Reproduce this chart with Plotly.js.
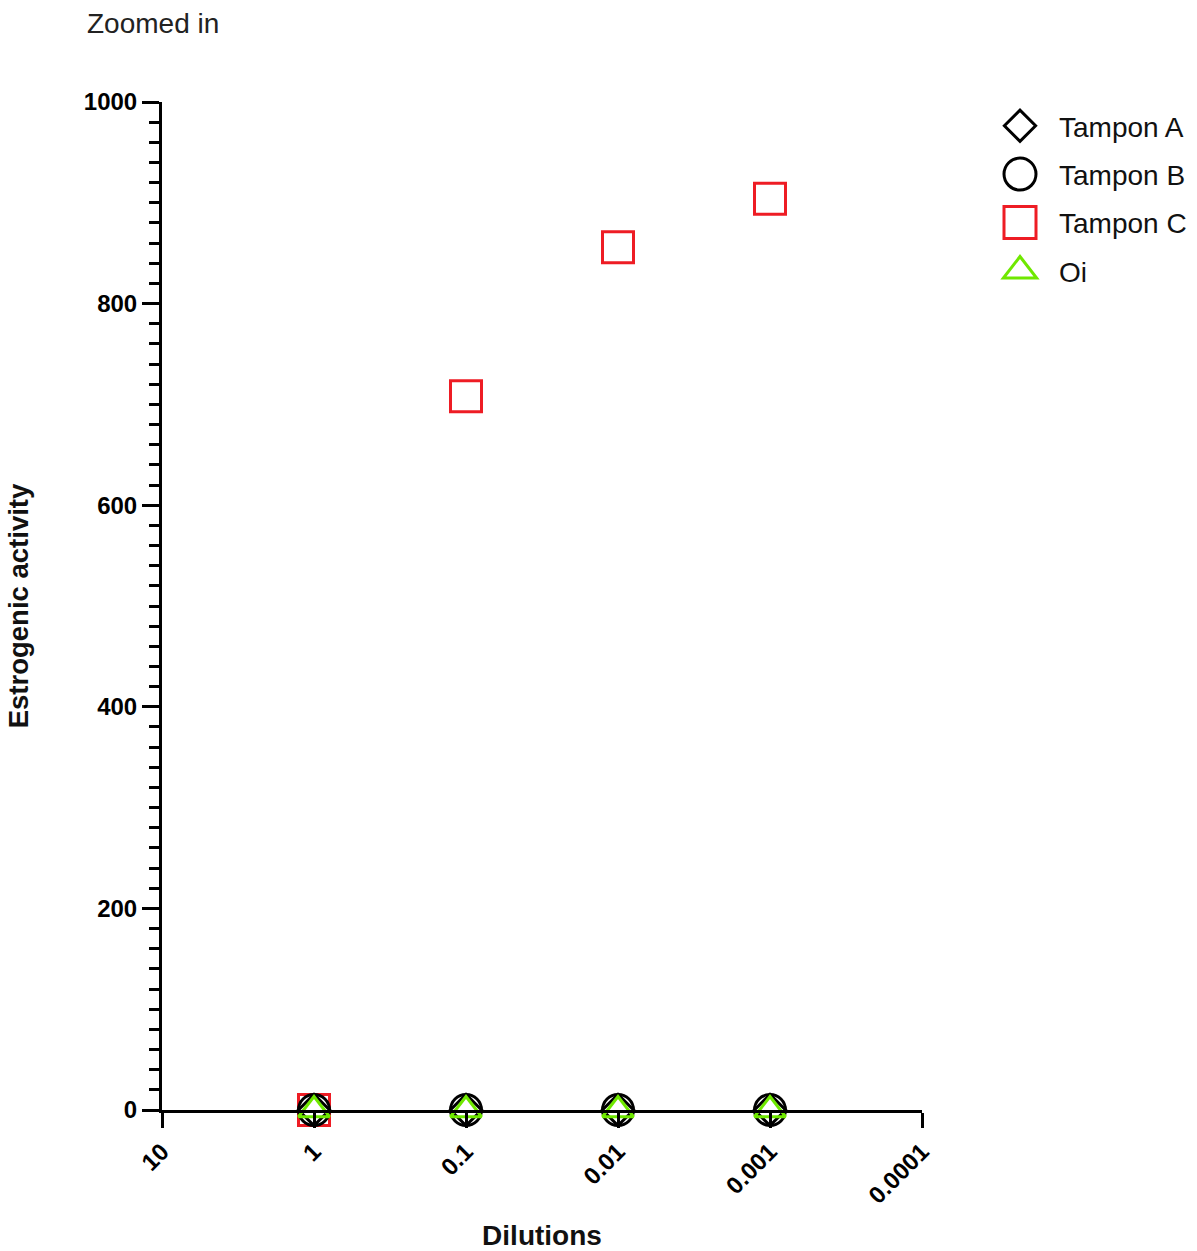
<!DOCTYPE html>
<html>
<head>
<meta charset="utf-8">
<script src="https://cdn.plot.ly/plotly-3.0.1.min.js"></script>
<style>html,body{margin:0;padding:0;background:#fff}#chart{width:1197px;height:1251px}</style>
</head>
<body>
<div id="chart"></div>
<script>
const dilutions = [1, 0.1, 0.01, 0.001];
const tamponA = [0, 0, 0, 0];
const tamponB = [0, 0, 0, 0];
const tamponC = [0, 708, 856, 904];
const oi = [0, 0, 0, 0];
const xTickVals = [10, 1, 0.1, 0.01, 0.001, 0.0001];
const xTickText = ['10', '1', '0.1', '0.01', '0.001', '0.0001'];

const FONT = 'Liberation Sans, Arial, Helvetica, sans-serif';

const traces = [
  {name: 'Tampon C', x: dilutions, y: tamponC, legendrank: 3, legendgroup: 'c',
   marker: {symbol: 'square-open', size: 31, color: '#ee1c24', line: {width: 3, color: '#ee1c24'}}},
  {name: 'Tampon A', x: dilutions, y: tamponA, legendrank: 1, legendgroup: 'a',
   marker: {symbol: 'diamond-open', size: 24, color: '#000', line: {width: 3, color: '#000'}}},
  {name: 'Tampon B', x: dilutions, y: tamponB, legendrank: 2, legendgroup: 'b',
   marker: {symbol: 'circle-open', size: 31, color: '#000', line: {width: 3, color: '#000'}}},
  {name: 'Oi', x: dilutions, y: oi, legendrank: 4, legendgroup: 'd',
   marker: {symbol: 'triangle-up-open', size: 27, color: '#6fe800', line: {width: 3, color: '#6fe800'}}}
].map(t => Object.assign({type: 'scatter', mode: 'markers', cliponaxis: false}, t));

const legendScale = {'Tampon A': 1.5, 'Tampon B': 2, 'Tampon C': 2, 'Oi': 1.8};

const layout = {
  width: 1197, height: 1251,
  margin: {l: 162, r: 275, t: 102, b: 141},
  paper_bgcolor: '#fff', plot_bgcolor: '#fff',
  font: {family: FONT, color: '#000'},
  title: {text: 'Zoomed in', x: 87/1197, xref: 'container', xanchor: 'left',
          y: 1 - 23/1251, yref: 'container', yanchor: 'middle',
          font: {size: 28, family: FONT, color: '#222'}},
  showlegend: true,
  legend: {x: 981/1197, xref: 'container', xanchor: 'left', y: 1 - 101/1251, yref: 'container', yanchor: 'top',
           font: {size: 28, family: FONT, color: '#111'}, tracegroupgap: 9,
           itemwidth: 68, itemsizing: 'trace', bgcolor: 'rgba(0,0,0,0)'},
  xaxis: {type: 'log', range: [1, -4], tickmode: 'array', tickvals: xTickVals, ticktext: xTickText,
          tickangle: -45, showgrid: false, zeroline: false, showline: true, linewidth: 3, linecolor: '#000',
          ticks: 'outside', ticklen: 15, tickwidth: 3, tickcolor: '#000', automargin: false,
          tickfont: {size: 24, family: FONT, weight: 'bold', color: '#000'},
          title: {text: 'Dilutions', font: {size: 28, family: FONT, weight: 'bold', color: '#111'}, standoff: 24}},
  yaxis: {range: [0, 1000], dtick: 200, showgrid: false, zeroline: false, showline: true, linewidth: 3, linecolor: '#000',
          ticks: 'outside', ticklen: 17, tickwidth: 3, tickcolor: '#000', automargin: false,
          minor: {dtick: 20, ticks: 'outside', ticklen: 10, tickwidth: 3, tickcolor: '#000', showgrid: false},
          tickfont: {size: 24, family: FONT, weight: 'bold', color: '#000'},
          title: {text: 'Estrogenic activity', font: {size: 27.5, family: FONT, weight: 'bold', color: '#111'}, standoff: 48}}
};

Plotly.newPlot('chart', traces, layout, {displayModeBar: false, staticPlot: true}).then(() => {
  document.querySelectorAll('#chart .legend .traces').forEach(tr => {
    const label = tr.querySelector('text.legendtext');
    const s = label ? (legendScale[label.textContent] || 2) : 2;
    tr.querySelectorAll('.legendpoints path.scatterpts').forEach(p => {
      const t = p.getAttribute('transform') || '';
      p.setAttribute('transform', t + ' scale(' + s + ')');
      p.style.vectorEffect = 'non-scaling-stroke';
      p.style.strokeWidth = '3px';
    });
  });
});
</script>
</body>
</html>
